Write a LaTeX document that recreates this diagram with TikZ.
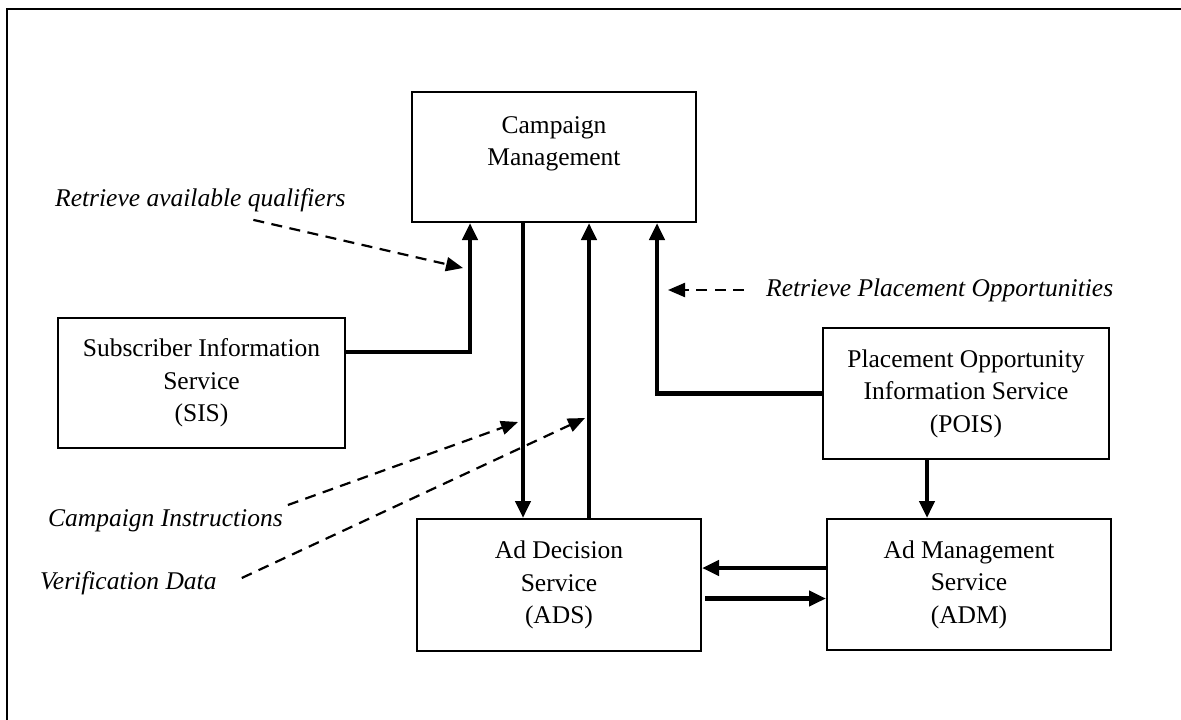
\documentclass[tikz,border=0pt]{standalone}
\usepackage{fontspec}
\setmainfont{Liberation Serif}
\usetikzlibrary{arrows.meta}
\begin{document}
\begin{tikzpicture}[x=1pt,y=-1pt,
  box/.style={draw, line width=2pt, inner sep=0pt, align=center,
    font=\fontsize{25.5}{32.5}\selectfont},
  boxtext/.style={inner sep=0pt, align=center, font=\fontsize{25.5}{32.5}\selectfont},
  note/.style={inner sep=0pt, font=\fontsize{25.5}{30}\selectfont\itshape},
  flow/.style={line width=4.5pt, -{Triangle[length=17pt,width=15pt]}},
  hint/.style={line width=2.2pt, dash pattern=on 11pt off 7.5pt,
    -{Triangle[length=17pt,width=14pt]}}]
\useasboundingbox (0,0) rectangle (1181,720);
% outer frame (top and left edges)
\draw[line width=2.5pt] (1190,9) -- (7,9) -- (7,730);

% services
\node[box, minimum width=284pt, minimum height=130pt] (cm) at (554,157) {};
\node[boxtext] (cmt) at ([yshift=13pt]cm.center) {Campaign\\Management};
\node[box, minimum width=287pt, minimum height=130pt] (sis) at (201.5,383)
  {Subscriber Information\\Service\\(SIS)};
\node[box, minimum width=286pt, minimum height=131pt] (pois) at (966,393.5)
  {Placement Opportunity\\Information Service\\(POIS)};
\node[box, minimum width=284pt, minimum height=132pt] (ads) at (559,585)
  {Ad Decision\\Service\\(ADS)};
\node[box, minimum width=284pt, minimum height=131pt] (adm) at (969,584.5)
  {Ad Management\\Service\\(ADM)};

% interfaces
\draw[flow] ([yshift=31pt]sis.east) -| ([xshift=-84pt]cm.south);
\draw[flow] ([xshift=-31pt]cm.south) -- ([xshift=-31pt]cm.south |- ads.north);
\draw[flow] ([xshift=35pt]cm.south |- ads.north) -- ([xshift=35pt]cm.south);
\draw[flow] (pois.west) -| ([xshift=103pt]cm.south);
\draw[flow] ([xshift=-39pt]pois.south) -- ([xshift=-39pt]pois.south |- adm.north);
\draw[flow] ([yshift=16.5pt]adm.west) -- ([yshift=16.5pt]adm.west -| ads.east);
\draw[flow] ([yshift=-13.5pt,xshift=3pt]ads.east) -- ([yshift=-13.5pt]ads.east -| adm.west);

% interface labels
\node[note, anchor=west] (rq) at (55,200) {Retrieve available qualifiers};
\coordinate (rqtip) at (463,268);
\draw[hint] ([xshift=53pt,yshift=-8pt]rq.south) -- (rqtip);

\node[note, anchor=west] (rpo) at (766,290) {Retrieve Placement Opportunities};
\coordinate (rpotip) at (668,290);
\draw[hint] ([xshift=-22pt]rpo.west) -- (rpotip);

\node[note, anchor=west] (ci) at (48,521) {Campaign Instructions};
\coordinate (citip) at (518,422);
\draw[hint] ([xshift=5pt,yshift=16pt]ci.east) -- (citip);

\node[note, anchor=west] (vd) at (40,583) {Verification Data};
\coordinate (vdtip) at (585,418);
\draw[hint] ([xshift=25pt,yshift=5pt]vd.east) -- (vdtip);
\end{tikzpicture}
\end{document}
